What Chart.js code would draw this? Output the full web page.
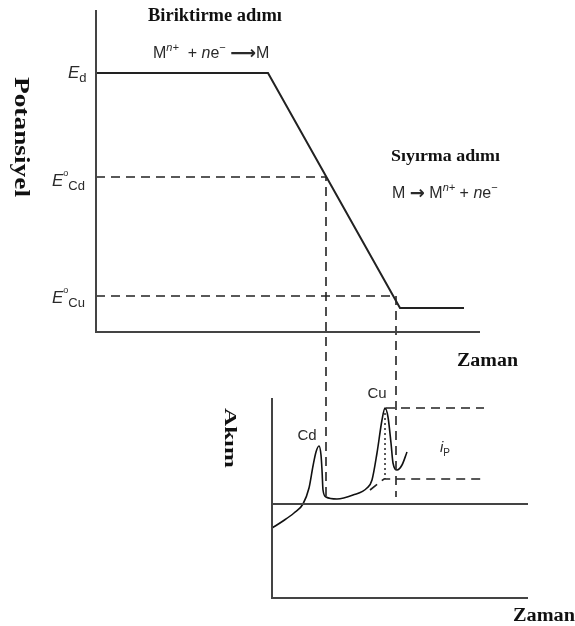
<!DOCTYPE html>
<html>
<head>
<meta charset="utf-8">
<script src="https://cdn.jsdelivr.net/npm/chart.js@4.4.0/dist/chart.umd.min.js"></script>
<style>
body{margin:0;background:#fff;}
canvas{display:block;}
</style>
</head>
<body>
<canvas id="chart" width="575" height="626"></canvas>
<script>
// potential levels (arbitrary units) and the times the scan crosses them
const E_d = 2.59;
const E_Cd = 1.55;
const E_Cu = 0.36;
const t_Cd = 5.75;
const t_Cu = 7.5;

// upper panel: applied potential program
const potT = [0, 4.3, 7.6, 9.2];
const potE = [E_d, E_d, 0.24, 0.24];
const upperAxisT = [0, 0, 9.6];
const upperAxisE = [3.22, 0, 0];
const dropE = -1.65; // where the guide lines stop in the lower panel

// lower panel: stripping current
const curT = [4.4, 4.675, 4.95, 5.175, 5.325, 5.425, 5.5, 5.575, 5.625, 5.65, 5.675, 5.75,
    6.025, 6.425, 6.775, 6.9, 7.025, 7.15, 7.225, 7.3, 7.375, 7.425, 7.525, 7.65, 7.775];
const curI = [35, 38.5, 42.5, 47, 55, 66, 73, 76, 71.5, 64, 54, 50.5,
    49.5, 51.5, 55, 59, 72.5, 89, 95, 90.5, 77.5, 67.5, 64, 66.5, 73];
const lowerAxisT = [4.4, 4.4, 10.8];
const lowerAxisI = [100, 0, 0];
const baseI = 47;
const peakCuI = 95;
const footCuI = 59.5;
const t_peakCu = 7.225;

function pts(ts, vs){
    let out = [];
    for(let i = 0; i < ts.length; i++){
        out.push({x: ts[i], y: vs[i]});
    }
    return out;
}

function line(data, axis, opts){
    return Object.assign({
        type: 'line',
        data: data,
        yAxisID: axis,
        borderColor: '#333',
        borderWidth: 2,
        pointRadius: 0,
        fill: false,
        tension: 0
    }, opts || {});
}

const dash = [9, 6];

const datasets = [
    line(pts(upperAxisT, upperAxisE), 'yE', {borderColor: '#444', borderWidth: 2}),
    line(pts(potT, potE), 'yE', {borderColor: '#222', borderWidth: 2}),
    line(pts([0, t_Cd, t_Cd], [E_Cd, E_Cd, dropE]), 'yE', {borderDash: dash, borderWidth: 1.6, borderColor: '#222'}),
    line(pts([0, t_Cu, t_Cu], [E_Cu, E_Cu, dropE]), 'yE', {borderDash: dash, borderWidth: 1.6, borderColor: '#222'}),
    line(pts(lowerAxisT, lowerAxisI), 'yI', {borderColor: '#444', borderWidth: 2}),
    line(pts([4.4, 10.8], [baseI, baseI]), 'yI', {borderColor: '#444', borderWidth: 2}),
    line(pts(curT, curI), 'yI', {borderColor: '#111', borderWidth: 1.6, cubicInterpolationMode: 'monotone'}),
    line(pts([7.25, 9.7], [peakCuI, peakCuI]), 'yI', {borderDash: dash, borderWidth: 1.6, borderColor: '#222'}),
    line(pts([6.85, 7.2, 9.7], [54, footCuI, footCuI]), 'yI', {borderDash: dash, borderWidth: 1.6, borderColor: '#222'}),
    line(pts([t_peakCu, t_peakCu], [peakCuI, footCuI]), 'yI', {borderDash: [2, 3], borderWidth: 1.6, borderColor: '#333'})
];

const SANS = '"Liberation Sans", Arial, sans-serif';
const SERIF = '"Liberation Serif", "Times New Roman", serif';

function drawRich(ctx, x, y, parts){
    let cx = x;
    ctx.textAlign = 'left';
    ctx.textBaseline = 'alphabetic';
    for(const p of parts){
        ctx.font = p[1];
        ctx.fillText(p[0], cx, y + (p[2] || 0));
        cx += ctx.measureText(p[0]).width;
    }
}

// horizontal text squeezed/stretched to a given width
function drawFit(ctx, text, font, x, y, width){
    ctx.save();
    ctx.font = font;
    const w = ctx.measureText(text).width;
    ctx.translate(x, y);
    ctx.scale(width / w, 1);
    ctx.textAlign = 'left';
    ctx.textBaseline = 'alphabetic';
    ctx.fillText(text, 0, 0);
    ctx.restore();
}

function drawRotated(ctx, text, font, cx, cy, length){
    ctx.save();
    ctx.font = font;
    const w = ctx.measureText(text).width;
    ctx.translate(cx, cy);
    ctx.rotate(Math.PI / 2);
    ctx.scale(length / w, 1);
    ctx.textAlign = 'center';
    ctx.textBaseline = 'middle';
    ctx.fillText(text, 0, 0);
    ctx.restore();
}

const labels = {
    id: 'labels',
    afterDatasetsDraw(chart){
        const ctx = chart.ctx;
        const x = chart.scales.x;
        const yE = chart.scales.yE;
        const x0 = x.getPixelForValue(0);
        ctx.save();

        ctx.fillStyle = '#111';
        drawFit(ctx, 'Biriktirme adımı', 'bold 18px ' + SERIF, 148, 21, 134);
        drawFit(ctx, 'Sıyırma adımı', 'bold 17px ' + SERIF, 391, 161, 109);
        drawFit(ctx, 'Zaman', 'bold 18px ' + SERIF, 457, 366, 61);
        drawFit(ctx, 'Zaman', 'bold 18px ' + SERIF, 513, 621, 62);
        drawRotated(ctx, 'Potansiyel', 'bold 20px ' + SERIF, 20, 137, 120);
        drawRotated(ctx, 'Akım', 'bold 17px ' + SERIF, 229, 438, 60);

        ctx.fillStyle = '#2a2a2a';
        const f = '16px ' + SANS;
        const fi = 'italic 16px ' + SANS;
        const fs = '11px ' + SANS;
        const fsi = 'italic 11px ' + SANS;
        const fa = 'bold 18px "DejaVu Sans"';
        drawRich(ctx, 153, 58, [['M', f], ['n+', fsi, -7], ['  + ', f], ['n', fi], ['e', f], ['−', fs, -7], [' ', f], ['⟶', fa, 1], ['M', f]]);
        drawRich(ctx, 392, 198, [['M ', f], ['→', fa, 1], [' M', f], ['n+', fsi, -7], [' + ', f], ['n', fi], ['e', f], ['−', fs, -7]]);

        // potential level labels sit on the level lines
        const fE = 'italic 17px ' + SANS;
        const fSub = '13px ' + SANS;
        const fDeg = '9px ' + SANS;
        drawRich(ctx, x0 - 28, yE.getPixelForValue(E_d) + 5, [['E', fE], ['d', fSub, 4]]);
        drawRich(ctx, x0 - 44, yE.getPixelForValue(E_Cd) + 9, [['E', fE], ['o', fDeg, -10], ['Cd', fSub, 4]]);
        drawRich(ctx, x0 - 44, yE.getPixelForValue(E_Cu) + 7, [['E', fE], ['o', fDeg, -10], ['Cu', fSub, 4]]);

        ctx.font = '15px ' + SANS;
        ctx.textAlign = 'center';
        ctx.fillText('Cd', 307, 440);
        ctx.fillText('Cu', 377, 398);
        drawRich(ctx, 440, 452, [['i', 'italic 15px ' + SANS], ['P', '10px ' + SANS, 4]]);
        ctx.restore();
    }
};

new Chart(document.getElementById('chart'), {
    data: {datasets: datasets},
    options: {
        responsive: false,
        animation: false,
        devicePixelRatio: 1,
        layout: {padding: 0},
        plugins: {legend: {display: false}, tooltip: {enabled: false}},
        scales: {
            x: {type: 'linear', display: false, min: -2.4, max: 11.975},
            yE: {type: 'linear', display: false, min: -2.94, max: 3.32},
            yI: {type: 'linear', display: false, min: -14, max: 299}
        }
    },
    plugins: [labels]
});
</script>
</body>
</html>
